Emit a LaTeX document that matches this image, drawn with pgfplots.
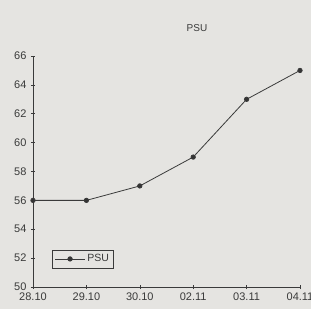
\documentclass[border=0pt]{standalone}
\usepackage{pgfplots}
\pgfplotsset{compat=1.18}
\usepackage{fontspec}
\setmainfont{Liberation Sans}
\definecolor{bg}{HTML}{E5E4E1}
\definecolor{ink}{HTML}{3A3A3A}
\begin{document}
\begin{tikzpicture}[x=1pt,y=1pt]
\fill[bg] (0,0) rectangle (311,309);
\clip (0,0) rectangle (311,309);
\begin{pgfinterruptboundingbox}
\node[font=\fontsize{10}{11}\selectfont, text=ink] at (197,281) {PSU};
\begin{axis}[
  at={(33pt,22pt)}, anchor=south west,
  scale only axis, width=267pt, height=231pt,
  xmin=0, xmax=5, ymin=50, ymax=66,
  axis lines=left,
  axis line style={-, ink, line width=0.7pt},
  xtick={0,1,2,3,4,5},
  xticklabels={28.10,29.10,30.10,02.11,03.11,04.11},
  ytick={50,52,...,66},
  tick align=center,
  major tick length=4pt,
  tick style={ink, line width=0.6pt},
  ticklabel style={font=\fontsize{11}{12}\selectfont, text=ink},
  /pgf/number format/assume math mode=true,
  xticklabel style={yshift=-0.5pt},
  yticklabel style={xshift=-1pt},
  clip=false,
  legend style={at={(0.071,0.082)}, anchor=south west, draw=ink, fill=bg,
     font=\fontsize{10.5}{11}\selectfont, text=ink, inner sep=2.5pt,
     legend cell align=left},
  legend image code/.code={\draw[mark repeat=2,mark phase=2] plot coordinates {(0pt,0pt)(15pt,0pt)(30pt,0pt)};},
]
\addplot[ink, line width=0.8pt, mark=*, mark size=2.2pt, mark options={fill=ink!90!black}]
  coordinates {(0,56) (1,56) (2,57) (3,59) (4,63) (5,65)};
\addlegendentry{PSU}
\end{axis}
\end{pgfinterruptboundingbox}
\end{tikzpicture}
\end{document}
